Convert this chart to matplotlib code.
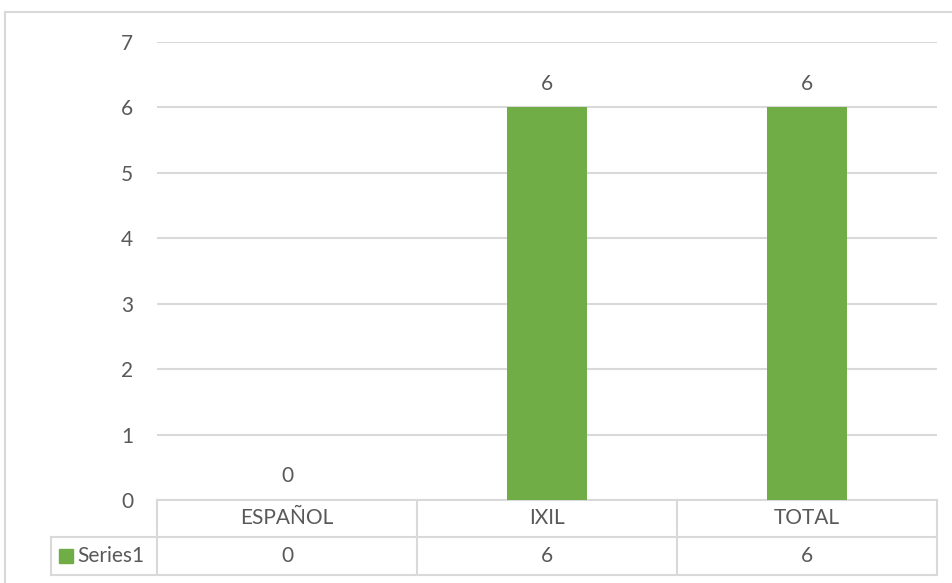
import matplotlib
matplotlib.use("Agg")
import matplotlib.pyplot as plt
from matplotlib.transforms import blended_transform_factory
from matplotlib.patches import Rectangle
from matplotlib.lines import Line2D

categories = ["ESPAÑOL", "IXIL", "TOTAL"]
values = [0, 6, 6]
series_name = "Series1"
y_ticks = [0, 1, 2, 3, 4, 5, 6, 7]

BAR_COLOR = "#70ad47"
TEXT_COLOR = "#595959"
GRID_COLOR = "#d9d9d9"
FONT = ["Lato", "DejaVu Sans"]
FS = 15

W, H = 953, 583
fig = plt.figure(figsize=(W / 100, H / 100), dpi=100)
fig.patch.set_facecolor("white")

# chart frame
fig.add_artist(Line2D([5 / W, 5 / W], [0, 1 - 12 / H], transform=fig.transFigure,
                      color=GRID_COLOR, lw=1.5))
fig.add_artist(Line2D([5 / W, 1], [1 - 12 / H, 1 - 12 / H], transform=fig.transFigure,
                      color=GRID_COLOR, lw=1.5))

left, right, top, bottom = 157, 937, 42, 500
ax = fig.add_axes([left / W, (H - bottom) / H, (right - left) / W, (bottom - top) / H])
x = list(range(len(categories)))
ax.bar(x, values, width=0.31, color=BAR_COLOR, zorder=3)
ax.set_xlim(-0.5, len(categories) - 0.5)
ax.set_ylim(0, 7)
ax.set_yticks(y_ticks)
ax.set_yticklabels([str(t) for t in y_ticks], fontsize=FS, color=TEXT_COLOR, family=FONT)
ax.tick_params(axis="y", length=0, pad=17)
ax.set_xticks([])
ax.grid(axis="y", color=GRID_COLOR, lw=1.5, zorder=0)
for s in ax.spines.values():
    s.set_visible(False)

for xi, v in zip(x, values):
    ax.annotate(str(v), (xi, v), xytext=(0, 10), textcoords="offset points",
                ha="center", va="bottom", fontsize=FS, color=TEXT_COLOR, family=FONT)

# data table under the plot
tr = blended_transform_factory(ax.transData, ax.transAxes)
ph = bottom - top
r1 = -37 / ph
r2 = -75 / ph
x_left = -0.5 - 106 / 260
x_right = len(categories) - 0.5
lkw = dict(transform=tr, color=GRID_COLOR, lw=1.5, clip_on=False)
ax.add_line(Line2D([-0.5, x_right], [0, 0], **lkw))
ax.add_line(Line2D([x_left, x_right], [r1, r1], **lkw))
ax.add_line(Line2D([x_left, x_right], [r2, r2], **lkw))
ax.add_line(Line2D([x_left, x_left], [r1, r2], **lkw))
for b in range(len(categories) + 1):
    ax.add_line(Line2D([b - 0.5, b - 0.5], [0, r2], **lkw))

for xi, c, v in zip(x, categories, values):
    ax.text(xi, r1 / 2, c, transform=tr, ha="center", va="center",
            fontsize=FS, color=TEXT_COLOR, family=FONT)
    ax.text(xi, (r1 + r2) / 2, str(v), transform=tr, ha="center", va="center",
            fontsize=FS, color=TEXT_COLOR, family=FONT)

# legend key in the table
ax.add_patch(Rectangle((x_left + 8 / 260, (r1 + r2) / 2 - 7 / ph), 14 / 260, 14 / ph,
                       transform=tr, color=BAR_COLOR, clip_on=False))
ax.text(x_left + 26 / 260, (r1 + r2) / 2, series_name, transform=tr, ha="left",
        va="center", fontsize=FS, color=TEXT_COLOR, family=FONT)

fig.savefig("out.png", dpi=100, facecolor="white")
